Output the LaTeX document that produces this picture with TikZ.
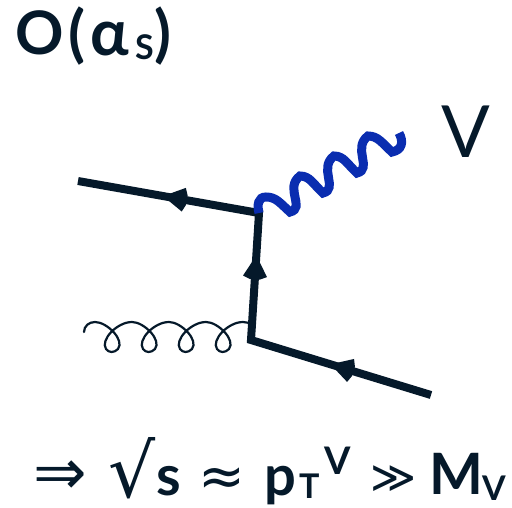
\documentclass[tikz,border=0pt]{standalone}
\usepackage{fontspec}
\setmainfont{Lato}
\newfontfamily\symfont{DejaVu Sans}
\usetikzlibrary{decorations.markings}
\definecolor{ink}{HTML}{05192A}
\definecolor{phot}{HTML}{0A2DB0}
\newcommand{\fsz}[1]{\fontsize{#1}{#1}\selectfont}
\tikzset{
 x=1pt,y=-1pt,
 fermion/.style={draw=ink,line width=8pt,line cap=butt},
 arrowed/.style={postaction={decorate},decoration={markings,mark=at position #1 with {\fill[ink] (11pt,0)--(-10pt,12pt)--(-13pt,5pt)--(-13pt,-5pt)--(-10pt,-12pt)--cycle;}}},
 label/.style={text=ink,inner sep=0pt,anchor=base west},
}
\begin{document}
\begin{tikzpicture}
\useasboundingbox (0,0) rectangle (512,507);
\coordinate (a) at (78,181);
\coordinate (b) at (259,213);
\coordinate (c) at (251,340);
\coordinate (d) at (431,395);
\coordinate (g) at (84,332);
\coordinate (gend) at (250,323);
\coordinate (pend) at (399,133);
\draw[fermion,line join=miter] (a)--(b)--(c)--(d);
\path[fermion,draw=none,arrowed=0.47] (b)--(a);
\path[fermion,draw=none,arrowed=0.58] (c)--(b);
\path[fermion,draw=none,arrowed=0.50] (d)--(c);
% gluon
\draw[ink,line width=2.2pt,line cap=round] (g) .. controls (84,326) and (89,322) .. (95,322)
 \foreach \i in {0,1,2,3} { .. controls ({95+\i*37+12},322) and ({95+\i*37+30},340) .. ({95+\i*37+23},349)
   .. controls ({95+\i*37+19},353) and ({95+\i*37+14},353) .. ({95+\i*37+11},349)
   .. controls ({95+\i*37+5},340) and ({95+\i*37+22},322) .. ({95+\i*37+37},322)} -- (gend);
% photon
\draw[phot,line width=9pt,line cap=butt,line join=miter] (b)
 .. controls (257,205) and (258,197) .. (266,197)
 .. controls (276,197) and (280,203) .. (290,212)
 .. controls (306,208) and (284,188) .. (300,176)
 .. controls (310,176) and (313,184) .. (323,193)
 .. controls (339,189) and (318,168) .. (334,156)
 .. controls (344,156) and (347,164) .. (357,173)
 .. controls (373,169) and (352,148) .. (368,136)
 .. controls (378,136) and (382,143) .. (392,152)
 .. controls (402,150) and (404,142) .. (pend);
% title
\node[label,font=\bfseries\fsz{60}] (o) at (15,54) {O};
\node[label,font=\bfseries\fsz{62}] (ol) at (68,55) {(};
\node[label,font=\bfseries\fsz{64}] (al) at (90,55) {α};
\node[label,font=\bfseries\fsz{34}] (s) at (135,59) {S};
\node[label,font=\bfseries\fsz{62}] (cl) at (154,55) {)};
\node[label,font=\fsz{72}] (v) at (441,157) {V};
% formula
\node[label,font=\symfont\fsz{64}] (imp) at (33,494) {⇒};
\node[label,font=\symfont\fsz{74}] (rt) at (108,497) {√};
\node[label,font=\bfseries\fsz{56}] (ss) at (156,495) {s};
\node[label,font=\symfont\fsz{56}] (ap) at (198,495) {≈};
\node[label,font=\bfseries\fsz{56}] (p) at (264,495) {p};
\node[label,font=\bfseries\fsz{34}] (tt) at (299,498) {T};
\node[label,font=\bfseries\fsz{38}] (vs) at (324,474) {V};
\node[label,font=\symfont\fsz{44}] (gg) at (370,492) {≫};
\node[label,font=\bfseries\fsz{57}] (m) at (429,494) {M};
\node[label,font=\bfseries\fsz{34}] (vm) at (482,500) {V};
\end{tikzpicture}
\end{document}
